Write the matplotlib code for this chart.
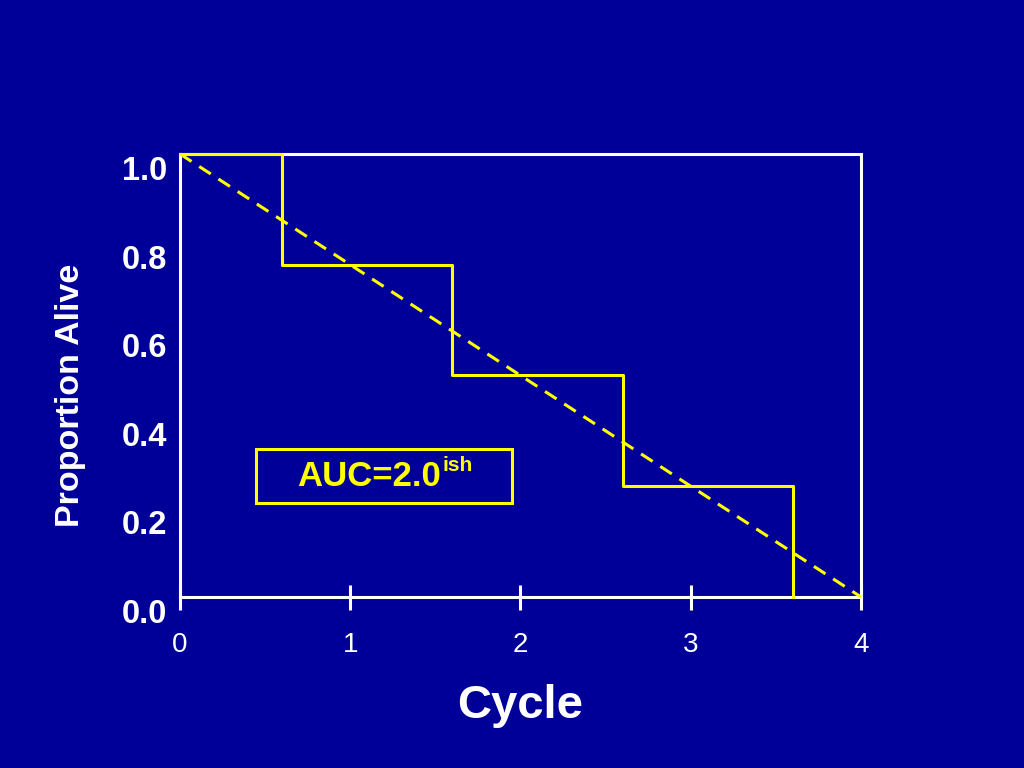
import numpy as np
import matplotlib.pyplot as plt
from matplotlib.patches import Rectangle
from matplotlib.transforms import ScaledTranslation

plt.rcParams['font.family'] = ['Liberation Sans', 'DejaVu Sans']

# ── data ──────────────────────────────────────────────────────────────────────
step_x = [0, 0.6, 0.6, 1.6, 1.6, 2.6, 2.6, 3.6, 3.6]
step_y = [1.0, 1.0, 0.75, 0.75, 0.5, 0.5, 0.25, 0.25, 0.0]
line_x = [0, 4]
line_y = [1.0, 0.0]
x_ticks = [0, 1, 2, 3, 4]
y_ticks = [0.0, 0.2, 0.4, 0.6, 0.8, 1.0]
y_labels = ["0.0", "0.2", "0.4", "0.6", "0.8", "1.0"]

BG = "#000099"
YEL = "#FFFF00"

fig = plt.figure(figsize=(10.24, 7.68), dpi=100, facecolor=BG)
ax = fig.add_axes([0.1758, 0.2227, 0.665, 0.5768], facecolor=BG)

ax.plot(step_x, step_y, color=YEL, lw=2.2, clip_on=False, zorder=4)
ax.plot(line_x, line_y, color=YEL, lw=2.2, ls=(0, (4.5, 3)), clip_on=False, zorder=4)

ax.set_xlim(0, 4)
ax.set_ylim(0, 1.0)

for s in ax.spines.values():
    s.set_color("white")
    s.set_linewidth(2.2)

ax.set_xticks(x_ticks)
ax.tick_params(axis="x", direction="inout", length=18, width=2.2, color="white",
               labelcolor="white", labelsize=20, pad=16)
ax.set_yticks(y_ticks)
ax.set_yticklabels(y_labels)
ax.tick_params(axis="y", length=0, labelcolor="white", labelsize=23.5, pad=9)
for lab in ax.get_yticklabels():
    lab.set_fontweight("bold")
    lab.set_transform(lab.get_transform() + ScaledTranslation(0, -14 / 100, fig.dpi_scale_trans))

ax.set_xlabel("Cycle", color="white", fontsize=34, fontweight="bold")
ax.xaxis.set_label_coords(0.5, -0.197)
ax.set_ylabel("Proportion Alive", color="white", fontsize=24.5, fontweight="bold")
ax.yaxis.set_label_coords(-0.1615, 0.456)
ax.yaxis.label.set_va("center")

# AUC annotation box
ax.add_patch(Rectangle((0.446, 0.212), 1.504, 0.122, fill=False, edgecolor=YEL,
                       lw=2.2, zorder=5))
t = ax.text(0.69, 0.250, "AUC=2.0", color=YEL, fontsize=25, fontweight="bold",
            ha="left", va="baseline", zorder=6)
ax.annotate("ish", xy=(1, 1), xycoords=t, xytext=(1, 3), textcoords="offset points",
            ha="left", va="top", color=YEL, fontsize=15, fontweight="bold", zorder=6)

fig.savefig("out.png", dpi=100, facecolor=BG)
